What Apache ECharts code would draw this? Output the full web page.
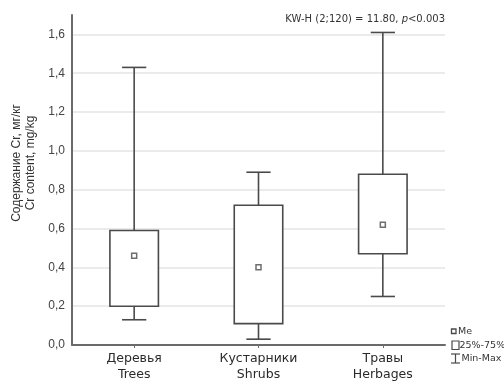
<!DOCTYPE html>
<html>
<head>
<meta charset="utf-8">
<script src="https://cdn.jsdelivr.net/npm/echarts@6/dist/echarts.min.js"></script>
<style>
  html, body { margin: 0; padding: 0; background: #fff; }
  #chart { width: 504px; height: 381px; }
</style>
</head>
<body>
<div id="chart"></div>
<script>
  // groups and their summary stats (Cr, mg/kg)
  const categories = ['Деревья\nTrees', 'Кустарники\nShrubs', 'Травы\nHerbages'];
  const minVals = [0.13, 0.03, 0.25];
  const q1Vals = [0.20, 0.11, 0.47];
  const medVals = [0.46, 0.40, 0.62];
  const q3Vals = [0.59, 0.72, 0.88];
  const maxVals = [1.43, 0.89, 1.61];

  const ink = '#4a4a4a';
  const chart = echarts.init(document.getElementById('chart'));

  const boxData = categories.map((c, i) => [i, minVals[i], q1Vals[i], medVals[i], q3Vals[i], maxVals[i]]);

  function renderBox(params, api) {
    const i = api.value(0);
    const x = api.coord([i, 0])[0];
    const yMin = api.coord([i, api.value(1)])[1];
    const yQ1 = api.coord([i, api.value(2)])[1];
    const yQ3 = api.coord([i, api.value(4)])[1];
    const yMax = api.coord([i, api.value(5)])[1];
    const bandW = api.size([1, 0])[0];
    const bw = bandW * 0.39;
    const cw = bandW * 0.195;
    const st = { stroke: ink, lineWidth: 1.6, fill: null };
    return {
      type: 'group',
      children: [
        { type: 'line', shape: { x1: x, y1: yMax, x2: x, y2: yQ3 }, style: st },
        { type: 'line', shape: { x1: x, y1: yQ1, x2: x, y2: yMin }, style: st },
        { type: 'line', shape: { x1: x - cw / 2, y1: yMax, x2: x + cw / 2, y2: yMax }, style: st },
        { type: 'line', shape: { x1: x - cw / 2, y1: yMin, x2: x + cw / 2, y2: yMin }, style: st },
        { type: 'rect', shape: { x: x - bw / 2, y: yQ3, width: bw, height: yQ1 - yQ3 }, style: { stroke: ink, lineWidth: 1.6, fill: '#fff' } }
      ]
    };
  }

  // 10 split lines: 0..1.6 by 0.2 plus the axis max, which stays hidden
  const gridColors = ['#e4e4e4', '#e4e4e4', '#e4e4e4', '#e4e4e4', '#e4e4e4', '#e4e4e4', '#e4e4e4', '#e4e4e4', '#e4e4e4', 'rgba(0,0,0,0)'];
  const legendFont = '9.5px "DejaVu Sans"';

  const option = {
    backgroundColor: '#fff',
    animation: false,
    title: {
      text: 'KW-H (2;120) = 11.80, {i|p}<0.003',
      right: 59,
      top: 14,
      padding: 0,
      textStyle: {
        fontFamily: 'DejaVu Sans',
        fontSize: 10,
        fontWeight: 'normal',
        color: '#333',
        rich: { i: { fontFamily: 'DejaVu Sans', fontSize: 10, fontStyle: 'italic', color: '#333' } }
      }
    },
    grid: { left: 72, right: 59, top: 15, bottom: 36, containLabel: false, outerBoundsMode: 'none' },
    xAxis: {
      type: 'category',
      data: categories,
      axisLine: { lineStyle: { color: '#6a6a6a', width: 2 } },
      axisTick: { show: true, alignWithLabel: true, length: 3, lineStyle: { color: '#6a6a6a' } },
      axisLabel: {
        fontFamily: 'DejaVu Sans',
        fontSize: 12.5,
        color: '#2a2a2a',
        lineHeight: 16,
        margin: 6
      }
    },
    yAxis: {
      type: 'value',
      min: 0,
      max: 1.7,
      interval: 0.2,
      axisLine: { show: true, lineStyle: { color: '#6a6a6a', width: 2 } },
      axisTick: { show: false },
      axisLabel: {
        fontFamily: 'Liberation Sans',
        fontSize: 12,
        color: '#444',
        margin: 7,
        formatter: v => {
          const r = Math.round(v * 10) / 10;
          if (Math.abs(r * 5 - Math.round(r * 5)) > 1e-6 || Math.abs(v - r) > 1e-6) return '';
          return r.toFixed(1).replace('.', ',');
        }
      },
      splitLine: { show: true, lineStyle: { color: gridColors, width: 1.5 } }
    },
    series: [
      {
        type: 'custom',
        renderItem: renderBox,
        data: boxData,
        encode: { x: 0, y: [1, 2, 3, 4, 5] },
        z: 2
      },
      {
        type: 'scatter',
        data: medVals,
        symbol: 'rect',
        symbolSize: 5,
        itemStyle: { color: '#fff', borderColor: ink, borderWidth: 1.5 },
        z: 3
      }
    ],
    graphic: [
      // y axis title, two lines, reading upwards
      {
        type: 'text', x: 23.5, y: 163, rotation: Math.PI / 2,
        style: {
          text: 'Содержание Cr, мг/кг\nCr content, mg/kg',
          font: '12px "Liberation Sans"', fill: '#333',
          align: 'center', verticalAlign: 'middle', lineHeight: 14
        }
      },
      // legend
      { type: 'rect', shape: { x: 451.5, y: 329, width: 4.5, height: 4.5 }, style: { fill: '#fff', stroke: ink, lineWidth: 1.3 } },
      { type: 'text', x: 458, y: 331.5, style: { text: 'Me', font: legendFont, fill: '#333', verticalAlign: 'middle' } },
      { type: 'rect', shape: { x: 452, y: 341, width: 7, height: 8.5 }, style: { fill: '#fff', stroke: ink, lineWidth: 1.2 } },
      { type: 'text', x: 459.5, y: 345.5, style: { text: '25%-75%', font: legendFont, fill: '#333', verticalAlign: 'middle' } },
      { type: 'line', shape: { x1: 455.5, y1: 354, x2: 455.5, y2: 363 }, style: { stroke: ink, lineWidth: 1.2 } },
      { type: 'line', shape: { x1: 451, y1: 354, x2: 460, y2: 354 }, style: { stroke: ink, lineWidth: 1.2 } },
      { type: 'line', shape: { x1: 451, y1: 363, x2: 460, y2: 363 }, style: { stroke: ink, lineWidth: 1.2 } },
      { type: 'text', x: 461.5, y: 359, style: { text: 'Min-Max', font: legendFont, fill: '#333', verticalAlign: 'middle' } }
    ]
  };

  chart.setOption(option);
</script>
</body>
</html>
